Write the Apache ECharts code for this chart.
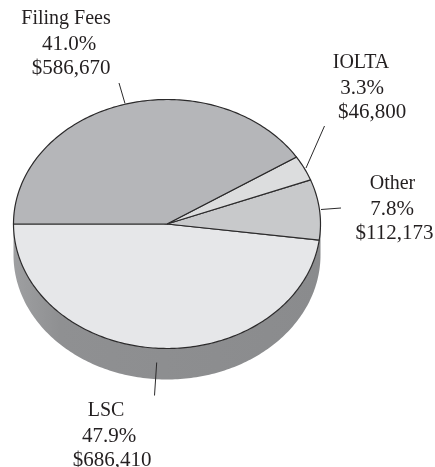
<!DOCTYPE html>
<html>
<head>
<meta charset="utf-8">
<style>
  html, body { margin: 0; padding: 0; background: #fff; }
  #chart { width: 435px; height: 467px; }
</style>
<script src="https://cdn.jsdelivr.net/npm/echarts@6/dist/echarts.min.js"></script>
</head>
<body>
<div id="chart"></div>
<script>
// slices, counter-clockwise from the left edge of the pie
const categories = ['LSC', 'Other', 'IOLTA', 'Filing Fees'];
const amounts = [686410, 112173, 46800, 586670];
const percentLabels = ['47.9%', '7.8%', '3.3%', '41.0%'];
const amountLabels = ['$686,410', '$112,173', '$46,800', '$586,670'];

const SLICE_COLOR = ['#e6e7e9', '#c8c9cb', '#dcddde', '#b5b6b9'];
const TEXT_COLOR = '#231f20';
const LINE_COLOR = '#2b2a2b';

// tilted pie geometry
const CX = 167;
const CY = 224;
const RX = 153.5;
const RY = 124.5;
const DEPTH = 31;

// leader line and label centres, same order as categories
const LEADERS = [
  [[156.7, 362.5], [154.5, 395.5]],
  [[321, 209.5], [341, 208]],
  [[306, 168], [324.5, 126]],
  [[125, 103.5], [119, 83]]
];
const LABEL_X = [
  [106, 109, 112],
  [392.5, 392, 394.5],
  [361, 362, 372],
  [66, 69, 71]
];
const LABEL_Y = [
  [411, 436, 460],
  [184, 209, 233],
  [63, 88, 112],
  [19, 44, 68]
];

const total = amounts.reduce((a, b) => a + b, 0);

function ellipsePoint(deg, dy) {
  const rad = deg * Math.PI / 180;
  return [CX + RX * Math.cos(rad), CY - RY * Math.sin(rad) + (dy || 0)];
}

function arcPoints(from, to, dy) {
  const pts = [];
  const n = Math.max(2, Math.ceil(Math.abs(to - from)));
  for (let i = 0; i <= n; i++) {
    pts.push(ellipsePoint(from + (to - from) * i / n, dy));
  }
  return pts;
}

function renderSlice(params, api) {
  const i = params.dataIndex;
  let before = 0;
  for (let k = 0; k < i; k++) {
    before += amounts[k];
  }
  // start at 180deg and go round through the bottom
  const start = 180 + before / total * 360;
  const end = start + api.value(1) / total * 360;
  return {
    type: 'polygon',
    shape: {points: [[CX, CY]].concat(arcPoints(start, end))},
    style: {fill: SLICE_COLOR[i], stroke: LINE_COLOR, lineWidth: 1.2}
  };
}

function renderWall() {
  const top = arcPoints(180, 360);
  const bottom = arcPoints(360, 180, DEPTH);
  return {
    type: 'polygon',
    shape: {points: top.concat(bottom)},
    style: {
      fill: {
        type: 'linear', x: 0, y: 0, x2: 1, y2: 0,
        colorStops: [
          {offset: 0, color: '#9e9fa1'},
          {offset: 0.15, color: '#8f9092'},
          {offset: 1, color: '#8a8b8d'}
        ]
      }
    }
  };
}

function renderLabels(params, api) {
  const i = params.dataIndex;
  const lines = [categories[i], percentLabels[i], amountLabels[i]];
  const children = lines.map((text, k) => ({
    type: 'text',
    style: {
      text: text,
      x: LABEL_X[i][k],
      y: LABEL_Y[i][k],
      align: 'center',
      verticalAlign: 'middle',
      // the figures run a little wider than the names in the original
      font: (k === 0 ? '20px' : '21px') + ' "Liberation Serif"',
      fill: TEXT_COLOR
    }
  }));
  children.push({
    type: 'line',
    shape: {
      x1: LEADERS[i][0][0], y1: LEADERS[i][0][1],
      x2: LEADERS[i][1][0], y2: LEADERS[i][1][1]
    },
    style: {stroke: LINE_COLOR, lineWidth: 1}
  });
  return {type: 'group', children: children};
}

const sliceData = categories.map((name, i) => [name, amounts[i]]);

const chart = echarts.init(document.getElementById('chart'));
chart.setOption({
  animation: false,
  backgroundColor: '#fff',
  series: [
    {type: 'custom', coordinateSystem: 'none', z: 1, silent: true, renderItem: renderWall, data: [[0]]},
    {type: 'custom', coordinateSystem: 'none', z: 2, silent: true, renderItem: renderSlice, data: sliceData},
    {type: 'custom', coordinateSystem: 'none', z: 3, silent: true, renderItem: renderLabels, data: sliceData}
  ]
});
</script>
</body>
</html>
